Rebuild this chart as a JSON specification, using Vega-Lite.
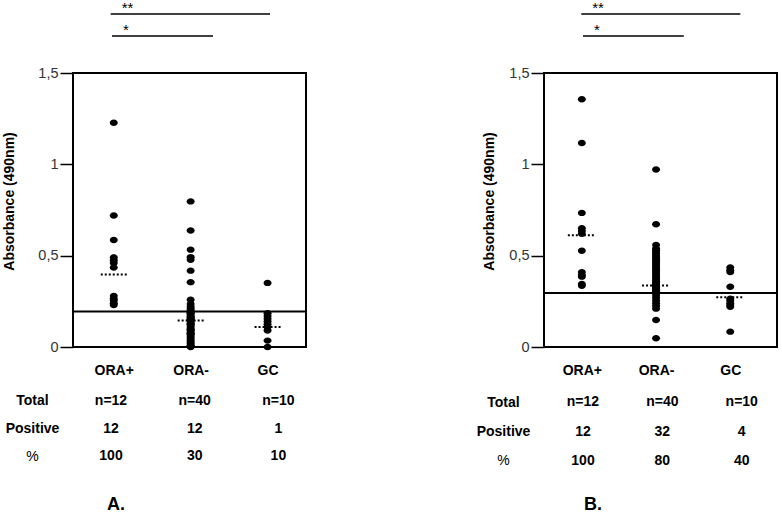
{
  "$schema": "https://vega.github.io/schema/vega-lite/v6.json",
  "background": "white",
  "padding": {"left": 0, "top": 1, "right": 0, "bottom": 0},
  "config": {
    "view": {"stroke": null},
    "font": "Liberation Sans",
    "axis": {"grid": false}
  },
  "datasets": {
    "pointsA": [
      {"g": 1, "group": "ORA+", "v": 1.228}, {"g": 1, "group": "ORA+", "v": 0.72}, {"g": 1, "group": "ORA+", "v": 0.586},
      {"g": 1, "group": "ORA+", "v": 0.49}, {"g": 1, "group": "ORA+", "v": 0.475}, {"g": 1, "group": "ORA+", "v": 0.46},
      {"g": 1, "group": "ORA+", "v": 0.435}, {"g": 1, "group": "ORA+", "v": 0.28}, {"g": 1, "group": "ORA+", "v": 0.265},
      {"g": 1, "group": "ORA+", "v": 0.255}, {"g": 1, "group": "ORA+", "v": 0.24}, {"g": 1, "group": "ORA+", "v": 0.23},
      {"g": 2, "group": "ORA-", "v": 0.797}, {"g": 2, "group": "ORA-", "v": 0.638}, {"g": 2, "group": "ORA-", "v": 0.533},
      {"g": 2, "group": "ORA-", "v": 0.492}, {"g": 2, "group": "ORA-", "v": 0.478}, {"g": 2, "group": "ORA-", "v": 0.418},
      {"g": 2, "group": "ORA-", "v": 0.355}, {"g": 2, "group": "ORA-", "v": 0.259}, {"g": 2, "group": "ORA-", "v": 0.235},
      {"g": 2, "group": "ORA-", "v": 0.22}, {"g": 2, "group": "ORA-", "v": 0.21}, {"g": 2, "group": "ORA-", "v": 0.2},
      {"g": 2, "group": "ORA-", "v": 0.19}, {"g": 2, "group": "ORA-", "v": 0.185}, {"g": 2, "group": "ORA-", "v": 0.18},
      {"g": 2, "group": "ORA-", "v": 0.17}, {"g": 2, "group": "ORA-", "v": 0.165}, {"g": 2, "group": "ORA-", "v": 0.16},
      {"g": 2, "group": "ORA-", "v": 0.155}, {"g": 2, "group": "ORA-", "v": 0.15}, {"g": 2, "group": "ORA-", "v": 0.145},
      {"g": 2, "group": "ORA-", "v": 0.14}, {"g": 2, "group": "ORA-", "v": 0.13}, {"g": 2, "group": "ORA-", "v": 0.125},
      {"g": 2, "group": "ORA-", "v": 0.12}, {"g": 2, "group": "ORA-", "v": 0.11}, {"g": 2, "group": "ORA-", "v": 0.1},
      {"g": 2, "group": "ORA-", "v": 0.095}, {"g": 2, "group": "ORA-", "v": 0.09}, {"g": 2, "group": "ORA-", "v": 0.08},
      {"g": 2, "group": "ORA-", "v": 0.075}, {"g": 2, "group": "ORA-", "v": 0.07}, {"g": 2, "group": "ORA-", "v": 0.06},
      {"g": 2, "group": "ORA-", "v": 0.05}, {"g": 2, "group": "ORA-", "v": 0.04}, {"g": 2, "group": "ORA-", "v": 0.03},
      {"g": 2, "group": "ORA-", "v": 0.02}, {"g": 2, "group": "ORA-", "v": 0.01}, {"g": 2, "group": "ORA-", "v": 0.005},
      {"g": 2, "group": "ORA-", "v": 0.0},
      {"g": 3, "group": "GC", "v": 0.351}, {"g": 3, "group": "GC", "v": 0.185}, {"g": 3, "group": "GC", "v": 0.17},
      {"g": 3, "group": "GC", "v": 0.155}, {"g": 3, "group": "GC", "v": 0.14}, {"g": 3, "group": "GC", "v": 0.125},
      {"g": 3, "group": "GC", "v": 0.11}, {"g": 3, "group": "GC", "v": 0.09}, {"g": 3, "group": "GC", "v": 0.035},
      {"g": 3, "group": "GC", "v": 0.0}
    ],
    "pointsB": [
      {"g": 1, "group": "ORA+", "v": 1.356}, {"g": 1, "group": "ORA+", "v": 1.117}, {"g": 1, "group": "ORA+", "v": 0.734},
      {"g": 1, "group": "ORA+", "v": 0.65}, {"g": 1, "group": "ORA+", "v": 0.635}, {"g": 1, "group": "ORA+", "v": 0.62},
      {"g": 1, "group": "ORA+", "v": 0.527}, {"g": 1, "group": "ORA+", "v": 0.41}, {"g": 1, "group": "ORA+", "v": 0.395},
      {"g": 1, "group": "ORA+", "v": 0.385}, {"g": 1, "group": "ORA+", "v": 0.345}, {"g": 1, "group": "ORA+", "v": 0.335},
      {"g": 2, "group": "ORA-", "v": 0.972}, {"g": 2, "group": "ORA-", "v": 0.672}, {"g": 2, "group": "ORA-", "v": 0.558},
      {"g": 2, "group": "ORA-", "v": 0.54}, {"g": 2, "group": "ORA-", "v": 0.53}, {"g": 2, "group": "ORA-", "v": 0.52},
      {"g": 2, "group": "ORA-", "v": 0.51}, {"g": 2, "group": "ORA-", "v": 0.5}, {"g": 2, "group": "ORA-", "v": 0.49},
      {"g": 2, "group": "ORA-", "v": 0.48}, {"g": 2, "group": "ORA-", "v": 0.47}, {"g": 2, "group": "ORA-", "v": 0.46},
      {"g": 2, "group": "ORA-", "v": 0.45}, {"g": 2, "group": "ORA-", "v": 0.44}, {"g": 2, "group": "ORA-", "v": 0.43},
      {"g": 2, "group": "ORA-", "v": 0.42}, {"g": 2, "group": "ORA-", "v": 0.41}, {"g": 2, "group": "ORA-", "v": 0.4},
      {"g": 2, "group": "ORA-", "v": 0.39}, {"g": 2, "group": "ORA-", "v": 0.38}, {"g": 2, "group": "ORA-", "v": 0.37},
      {"g": 2, "group": "ORA-", "v": 0.36}, {"g": 2, "group": "ORA-", "v": 0.35}, {"g": 2, "group": "ORA-", "v": 0.345},
      {"g": 2, "group": "ORA-", "v": 0.34}, {"g": 2, "group": "ORA-", "v": 0.335}, {"g": 2, "group": "ORA-", "v": 0.33},
      {"g": 2, "group": "ORA-", "v": 0.325}, {"g": 2, "group": "ORA-", "v": 0.32}, {"g": 2, "group": "ORA-", "v": 0.315},
      {"g": 2, "group": "ORA-", "v": 0.31}, {"g": 2, "group": "ORA-", "v": 0.305}, {"g": 2, "group": "ORA-", "v": 0.285},
      {"g": 2, "group": "ORA-", "v": 0.27}, {"g": 2, "group": "ORA-", "v": 0.255}, {"g": 2, "group": "ORA-", "v": 0.24},
      {"g": 2, "group": "ORA-", "v": 0.225}, {"g": 2, "group": "ORA-", "v": 0.21}, {"g": 2, "group": "ORA-", "v": 0.148},
      {"g": 2, "group": "ORA-", "v": 0.048},
      {"g": 3, "group": "GC", "v": 0.435}, {"g": 3, "group": "GC", "v": 0.42}, {"g": 3, "group": "GC", "v": 0.41},
      {"g": 3, "group": "GC", "v": 0.33}, {"g": 3, "group": "GC", "v": 0.265}, {"g": 3, "group": "GC", "v": 0.255},
      {"g": 3, "group": "GC", "v": 0.24}, {"g": 3, "group": "GC", "v": 0.23}, {"g": 3, "group": "GC", "v": 0.22},
      {"g": 3, "group": "GC", "v": 0.084}
    ],
    "mediansA": [{"g": 1, "v": 0.397}, {"g": 2, "v": 0.145}, {"g": 3, "v": 0.11}],
    "mediansB": [{"g": 1, "v": 0.612}, {"g": 2, "v": 0.336}, {"g": 3, "v": 0.272}],
    "cutoffA": [{"v": 0.195}],
    "cutoffB": [{"v": 0.295}],
    "sigA": [{"label": "**", "x1": 0.96, "x2": 3.032}, {"label": "*", "x1": 0.977, "x2": 2.29}],
    "sigB": [{"label": "**", "x1": 0.992, "x2": 3.136}, {"label": "*", "x1": 1.015, "x2": 2.374}],
    "tableA": [
      {"row": "Total", "g": 1, "t": "n=12"}, {"row": "Total", "g": 2, "t": "n=40"}, {"row": "Total", "g": 3, "t": "n=10"},
      {"row": "Positive", "g": 1, "t": "12"}, {"row": "Positive", "g": 2, "t": "12"}, {"row": "Positive", "g": 3, "t": "1"},
      {"row": "%", "g": 1, "t": "100"}, {"row": "%", "g": 2, "t": "30"}, {"row": "%", "g": 3, "t": "10"}
    ],
    "tableB": [
      {"row": "Total", "g": 1, "t": "n=12"}, {"row": "Total", "g": 2, "t": "n=40"}, {"row": "Total", "g": 3, "t": "n=10"},
      {"row": "Positive", "g": 1, "t": "12"}, {"row": "Positive", "g": 2, "t": "32"}, {"row": "Positive", "g": 3, "t": "4"},
      {"row": "%", "g": 1, "t": "100"}, {"row": "%", "g": 2, "t": "80"}, {"row": "%", "g": 3, "t": "40"}
    ]
  },
  "bounds": "flush",
  "spacing": 471,
  "hconcat": [
    {
      "bounds": "flush",
      "spacing": 26,
      "resolve": {"scale": {"x": "independent", "y": "independent"}},
      "vconcat": [
        {
          "width": 233, "height": 44,
          "data": {"name": "sigA"},
          "encoding": {
            "x": {"field": "x1", "type": "quantitative", "scale": {"domain": [0.47, 3.5], "nice": false, "zero": false}, "axis": null},
            "y": {"field": "label", "type": "nominal", "scale": {"type": "point", "domain": ["**", "*"], "padding": 0.5}, "axis": null}
          },
          "layer": [
            {"mark": {"type": "rule", "strokeWidth": 1.5, "color": "black"}, "encoding": {"x2": {"field": "x2"}}},
            {"mark": {"type": "text", "align": "left", "baseline": "alphabetic", "dx": 11, "dy": -1, "fontSize": 15, "color": "black"}, "encoding": {"text": {"field": "label"}}}
          ]
        },
        {
          "width": 233, "height": 274,
          "view": {"stroke": "black", "strokeWidth": 2},
          "layer": [
            {
              "data": {"name": "pointsA"},
              "mark": {"type": "point", "filled": true, "shape": "M-1,0A1,0.8,0,1,1,1,0A1,0.8,0,1,1,-1,0Z", "size": 64, "color": "black", "opacity": 1},
              "encoding": {
                "x": {"field": "g", "type": "quantitative", "scale": {"domain": [0.47, 3.5], "nice": false, "zero": false},
                  "axis": {"values": [1, 2, 3], "labelExpr": "datum.value == 1 ? 'ORA+' : datum.value == 2 ? 'ORA-' : 'GC'", "ticks": false, "tickSize": 0, "domain": false, "title": null, "labelFontSize": 14, "labelFontWeight": "bold", "labelColor": "black", "labelPadding": 16}},
                "y": {"field": "v", "type": "quantitative", "scale": {"domain": [0, 1.5], "nice": false},
                  "axis": {"title": "Absorbance (490nm)", "values": [0, 0.5, 1, 1.5], "labelExpr": "replace(format(datum.value, '.1~f'), '.', ',')", "domain": false, "tickColor": "black", "tickWidth": 1.5, "tickSize": 13, "labelPadding": 2, "labelFontSize": 14.5, "labelColor": "#333", "titleFontSize": 14, "titleFontWeight": "bold", "titleColor": "black", "titleX": -64, "titleY": 128, "titleAngle": -90, "titleAlign": "center", "titleBaseline": "middle"}}
              }
            },
            {
              "data": {"name": "mediansA"},
              "mark": {"type": "rule", "strokeDash": [2, 2], "strokeWidth": 2, "color": "black", "xOffset": -13, "x2Offset": 13},
              "encoding": {"x": {"field": "g", "type": "quantitative"}, "x2": {"field": "g"}, "y": {"field": "v", "type": "quantitative"}}
            },
            {
              "data": {"name": "cutoffA"},
              "mark": {"type": "rule", "strokeWidth": 2, "color": "black"},
              "encoding": {"y": {"field": "v", "type": "quantitative"}}
            }
          ]
        },
        {
          "width": 233, "height": 111,
          "data": {"name": "tableA"},
          "mark": {"type": "text", "fontSize": 14, "fontWeight": "bold", "color": "black", "baseline": "middle"},
          "encoding": {
            "x": {"field": "g", "type": "quantitative", "scale": {"domain": [0.546, 3.33], "nice": false, "zero": false}, "axis": null},
            "y": {"field": "row", "type": "nominal", "scale": {"type": "point", "domain": ["Total", "Positive", "%"], "padding": 1.088},
              "axis": {"title": null, "domain": false, "ticks": false, "tickSize": 0, "labelAlign": "center", "labelBaseline": "middle", "labelPadding": 41, "labelFontSize": 14, "labelColor": "black", "labelFontWeight": {"condition": {"test": "datum.value === '%'", "value": "normal"}, "value": "bold"}}},
            "text": {"field": "t"}
          },
          "title": {"text": "A.", "orient": "bottom", "anchor": "start", "frame": "group", "dx": 34, "fontSize": 18, "fontWeight": "bold", "baseline": "alphabetic", "offset": 26, "color": "black"}
        }
      ]
    },
    {
      "bounds": "flush",
      "spacing": 26,
      "resolve": {"scale": {"x": "independent", "y": "independent"}},
      "vconcat": [
        {
          "width": 233, "height": 44,
          "data": {"name": "sigB"},
          "encoding": {
            "x": {"field": "x1", "type": "quantitative", "scale": {"domain": [0.49, 3.63], "nice": false, "zero": false}, "axis": null},
            "y": {"field": "label", "type": "nominal", "scale": {"type": "point", "domain": ["**", "*"], "padding": 0.5}, "axis": null}
          },
          "layer": [
            {"mark": {"type": "rule", "strokeWidth": 1.5, "color": "black"}, "encoding": {"x2": {"field": "x2"}}},
            {"mark": {"type": "text", "align": "left", "baseline": "alphabetic", "dx": 11, "dy": -1, "fontSize": 15, "color": "black"}, "encoding": {"text": {"field": "label"}}}
          ]
        },
        {
          "width": 233, "height": 274,
          "view": {"stroke": "black", "strokeWidth": 2},
          "layer": [
            {
              "data": {"name": "pointsB"},
              "mark": {"type": "point", "filled": true, "shape": "M-1,0A1,0.8,0,1,1,1,0A1,0.8,0,1,1,-1,0Z", "size": 64, "color": "black", "opacity": 1},
              "encoding": {
                "x": {"field": "g", "type": "quantitative", "scale": {"domain": [0.49, 3.63], "nice": false, "zero": false},
                  "axis": {"values": [1, 2, 3], "labelExpr": "datum.value == 1 ? 'ORA+' : datum.value == 2 ? 'ORA-' : 'GC'", "ticks": false, "tickSize": 0, "domain": false, "title": null, "labelFontSize": 14, "labelFontWeight": "bold", "labelColor": "black", "labelPadding": 16}},
                "y": {"field": "v", "type": "quantitative", "scale": {"domain": [0, 1.5], "nice": false},
                  "axis": {"title": "Absorbance (490nm)", "values": [0, 0.5, 1, 1.5], "labelExpr": "replace(format(datum.value, '.1~f'), '.', ',')", "domain": false, "tickColor": "black", "tickWidth": 1.5, "tickSize": 13, "labelPadding": 2, "labelFontSize": 14.5, "labelColor": "#333", "titleFontSize": 14, "titleFontWeight": "bold", "titleColor": "black", "titleX": -55, "titleY": 128, "titleAngle": -90, "titleAlign": "center", "titleBaseline": "middle"}}
              }
            },
            {
              "data": {"name": "mediansB"},
              "mark": {"type": "rule", "strokeDash": [2, 2], "strokeWidth": 2, "color": "black", "xOffset": -14, "x2Offset": 14},
              "encoding": {"x": {"field": "g", "type": "quantitative"}, "x2": {"field": "g"}, "y": {"field": "v", "type": "quantitative"}}
            },
            {
              "data": {"name": "cutoffB"},
              "mark": {"type": "rule", "strokeWidth": 2, "color": "black"},
              "encoding": {"y": {"field": "v", "type": "quantitative"}}
            }
          ]
        },
        {
          "width": 233, "height": 117,
          "data": {"name": "tableB"},
          "mark": {"type": "text", "fontSize": 14, "fontWeight": "bold", "color": "black", "baseline": "middle"},
          "encoding": {
            "x": {"field": "g", "type": "quantitative", "scale": {"domain": [0.509, 3.444], "nice": false, "zero": false}, "axis": null},
            "y": {"field": "row", "type": "nominal", "scale": {"type": "point", "domain": ["Total", "Positive", "%"], "padding": 1.153},
              "axis": {"title": null, "domain": false, "ticks": false, "tickSize": 0, "labelAlign": "center", "labelBaseline": "middle", "labelPadding": 41, "labelFontSize": 14, "labelColor": "black", "labelFontWeight": {"condition": {"test": "datum.value === '%'", "value": "normal"}, "value": "bold"}}},
            "text": {"field": "t"}
          },
          "title": {"text": "B.", "orient": "bottom", "anchor": "start", "frame": "group", "dx": 40, "fontSize": 18, "fontWeight": "bold", "baseline": "alphabetic", "offset": 20, "color": "black"}
        }
      ]
    }
  ]
}
